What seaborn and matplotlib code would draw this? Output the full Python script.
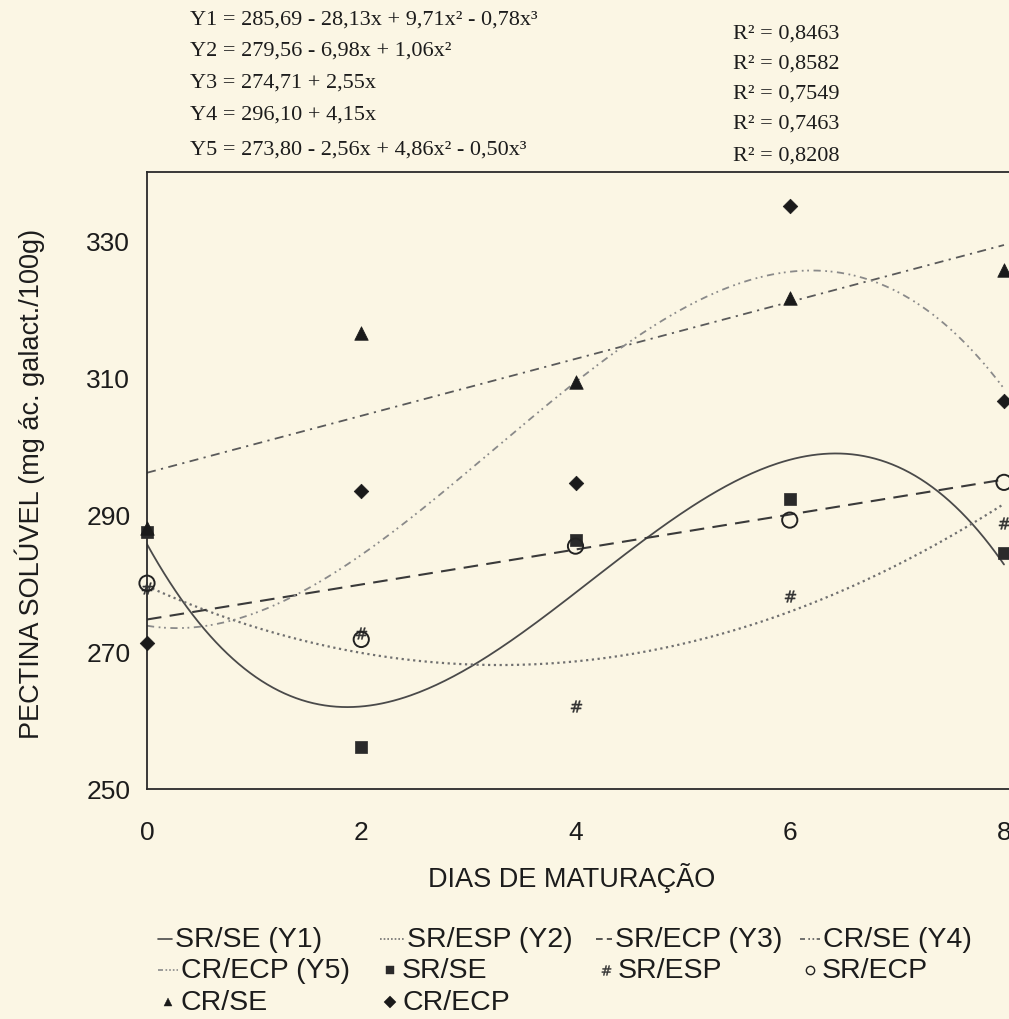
import numpy as np
import pandas as pd
import matplotlib
matplotlib.use("Agg")
import matplotlib.pyplot as plt
import seaborn as sns
from matplotlib.lines import Line2D

# ---------------- data ----------------
days = [0, 2, 4, 6, 8]
sr_se = [287.4, 256.1, 286.3, 292.3, 284.4]     # squares
sr_esp = [279.3, 272.8, 262.1, 278.2, 288.8]    # '#'
sr_ecp = [280.0, 271.8, 285.4, 289.2, 294.7]    # open circles
cr_se = [288.0, 316.5, 309.4, 321.6, 325.6]     # triangles
cr_ecp = [271.3, 293.4, 294.6, 335.0, 306.6]    # diamonds

# regression coefficients printed on the chart (highest power first)
coef_y1 = [-0.78, 9.71, -28.13, 285.69]
coef_y2 = [1.06, -6.98, 279.56]
coef_y3 = [2.55, 274.71]
coef_y4 = [4.15, 296.10]
coef_y5 = [-0.50, 4.86, -2.56, 273.80]

eq_texts = [
    "Y1 = 285,69 - 28,13x + 9,71x² - 0,78x³",
    "Y2 = 279,56 - 6,98x + 1,06x²",
    "Y3 = 274,71 + 2,55x",
    "Y4 = 296,10 + 4,15x",
    "Y5 = 273,80 - 2,56x + 4,86x² - 0,50x³",
]
r2_texts = ["R² = 0,8463", "R² = 0,8582", "R² = 0,7549", "R² = 0,7463", "R² = 0,8208"]
curve_labels = ["SR/SE (Y1)", "SR/ESP (Y2)", "SR/ECP (Y3)", "CR/SE (Y4)", "CR/ECP (Y5)"]
point_labels = ["SR/SE", "SR/ESP", "SR/ECP", "CR/SE", "CR/ECP"]
y_ticks = [250, 270, 290, 310, 330]
x_ticks = [0, 2, 4, 6, 8]
x_label = "DIAS DE MATURAÇÃO"
y_label = "PECTINA SOLÚVEL (mg ác. galact./100g)"

# ---------------- style ----------------
BG = "#FBF6E4"
INK = "#1c1c1c"
sns.set_style("white")
plt.rcParams["font.family"] = ["Liberation Sans", "DejaVu Sans"]

W, H = 1009, 1020
fig = plt.figure(figsize=(W / 100, H / 100), dpi=100, facecolor=BG)

def fx(px):
    return px / W

def fy(py):
    return 1 - py / H

ax_left, ax_top, ax_bottom, ax_right = 147, 172.6, 790, 1009
x8_px = 1004
ax = fig.add_axes([fx(ax_left), fy(ax_bottom), (ax_right - ax_left) / W, (ax_bottom - ax_top) / H])
ax.set_facecolor(BG)

# curves from the printed regression equations
xs = np.linspace(0, 8, 300)
curve_styles = [
    dict(color="#4a4a4a", linestyle="-", linewidth=1.3),
    dict(color="#707070", linestyle=(0, (1, 1.6)), linewidth=1.6),
    dict(color="#3a3a3a", linestyle=(0, (7, 4)), linewidth=1.5),
    dict(color="#5a5a5a", linestyle=(0, (5, 3, 1.2, 3)), linewidth=1.3),
    dict(color="#8a8a8a", linestyle=(0, (4, 2.5, 1, 2, 1, 2.5)), linewidth=1.3),
]
legend_dash = [
    "-",
    (0, (1, 1.2)),
    (0, (4, 2.5)),
    (0, (3, 2, 1, 1.5, 1, 1.5)),
    (0, (3, 1.5, 1, 1.2, 1, 1.2, 1, 1.2)),
]
coefs = [coef_y1, coef_y2, coef_y3, coef_y4, coef_y5]
for c, lab, st in zip(coefs, curve_labels, curve_styles):
    df = pd.DataFrame({"x": xs, "y": np.polyval(c, xs)})
    sns.lineplot(data=df, x="x", y="y", ax=ax, legend=False, zorder=2, **st)

# points
series = [sr_se, sr_esp, sr_ecp, cr_se, cr_ecp]
pstyles = [
    dict(marker="s", s=80, color="#2a2a2a", edgecolor="#2a2a2a", linewidth=0.5),
    dict(marker=r"$\#$", s=70, color="#333333", edgecolor="#333333", linewidth=0.3),
    dict(marker="o", s=120, facecolor="none", edgecolor="#222222", linewidth=1.4),
    dict(marker="^", s=95, color="#1a1a1a", edgecolor="#1a1a1a", linewidth=0.5),
    dict(marker="D", s=55, color="#1a1a1a", edgecolor="#1a1a1a", linewidth=0.5),
]
order = [3, 0, 2, 1, 4]  # triangle under square at day 0
for i in order:
    df = pd.DataFrame({"x": days, "y": series[i]})
    sns.scatterplot(data=df, x="x", y="y", ax=ax, legend=False, zorder=3 + i, clip_on=False, **pstyles[i])

ax.set_xlim(0, 8 * (ax_right - ax_left) / (x8_px - ax_left))
ax.set_ylim(250, 340)
ax.set_xticks(x_ticks)
ax.set_yticks(y_ticks)
ax.set_xticklabels([str(t) for t in x_ticks])
ax.set_yticklabels([str(t) for t in y_ticks])
ax.tick_params(axis="both", length=0, labelsize=19, colors=INK)
ax.tick_params(axis="x", pad=22)
ax.tick_params(axis="y", pad=12)
ax.set_xlabel("")
ax.set_ylabel("")
for side in ["left", "top", "bottom"]:
    ax.spines[side].set_color("#2a2a2a")
    ax.spines[side].set_linewidth(1.3)
ax.spines["right"].set_visible(False)

# axis titles
fig.text(fx(572), fy(878), x_label, ha="center", va="center", fontsize=19.5, color=INK)
fig.text(fx(30), fy(484), y_label, ha="center", va="center", rotation=90, fontsize=19.5, color=INK)

# equations block
serif = ["Liberation Serif", "DejaVu Serif"]
eq_y = [20, 51, 83, 115, 150]
r2_y = [34, 64, 94, 124, 156]
for t, yy in zip(eq_texts, eq_y):
    fig.text(fx(190), fy(yy), t, ha="left", va="center", fontsize=16, family=serif, color=INK)
for t, yy in zip(r2_texts, r2_y):
    fig.text(fx(733), fy(yy), t, ha="left", va="center", fontsize=16, family=serif, color=INK)

# manual legend
col_x = [158, 380, 596, 800]
row_y = [940, 971, 1003]
entries = [
    ("line", 0, 0, 0), ("line", 1, 1, 0), ("line", 2, 2, 0), ("line", 3, 3, 0),
    ("line", 4, 0, 1), ("pt", 0, 1, 1), ("pt", 1, 2, 1), ("pt", 2, 3, 1),
    ("pt", 3, 0, 2), ("pt", 4, 1, 2),
]
handle_len = {0: 14, 1: 24, 2: 16, 3: 20, 4: 20}
for kind, idx, c, r in entries:
    x0 = col_x[c]
    yy = fy(row_y[r])
    if kind == "line":
        hl = handle_len[idx]
        fig.add_artist(Line2D([fx(x0), fx(x0 + hl)], [yy, yy], transform=fig.transFigure,
                              color=curve_styles[idx]["color"], linestyle=legend_dash[idx], linewidth=1.2))
        tx = x0 + hl + 3
        label = curve_labels[idx]
    else:
        ps = pstyles[idx]
        mk = ps["marker"]
        fc = ps.get("facecolor", ps.get("color"))
        fig.add_artist(Line2D([fx(x0 + 10)], [yy], transform=fig.transFigure, marker=mk,
                              markersize=6 if mk != r"$\#$" else 7, markerfacecolor=fc,
                              markeredgecolor=ps["edgecolor"], markeredgewidth=1.0 if mk == "o" else 0.3,
                              linestyle="none"))
        tx = x0 + 22
        label = point_labels[idx]
    fig.text(fx(tx), yy, label, ha="left", va="center", fontsize=20.5, color=INK)

fig.savefig("out.png", dpi=100, facecolor=BG)
